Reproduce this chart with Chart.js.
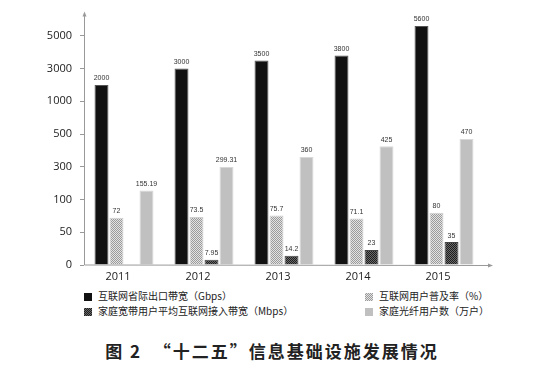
<!DOCTYPE html>
<html lang="zh">
<head>
<meta charset="UTF-8">
<title>“十二五”信息基础设施发展情况</title>
<script src="https://cdn.jsdelivr.net/npm/chart.js"></script>
<style>
  body { margin: 0; background: #fff; width: 544px; height: 367px; position: relative; overflow: hidden;
         font-family: "Noto Sans CJK SC", "Noto Sans", sans-serif; color: #222; }
  #wrap { position: absolute; left: 0; top: 0; width: 544px; height: 285px; }
  .lg { position: absolute; font-size: 10px; line-height: 12px; white-space: nowrap; }
  .lg i { display: inline-block; width: 8px; height: 8px; margin-right: 6px; vertical-align: -1px; }
  #caption { position: absolute; left: 0; width: 544px; top: 338px; text-align: center;
             font-size: 17px; font-weight: bold; letter-spacing: 2px; }
</style>
</head>
<body>
<div id="wrap"><canvas id="chart" width="544" height="285"></canvas></div>

<!-- Legend -->
<div class="lg" style="left:84px; top:290px;"><i style="background:#111"></i>互联网省际出口带宽（Gbps）</div>
<div class="lg" style="left:84px; top:305px;"><i id="lgDark"></i>家庭宽带用户平均互联网接入带宽（Mbps）</div>
<div class="lg" style="left:365px; top:290px;"><i id="lgLight"></i>互联网用户普及率（%）</div>
<div class="lg" style="left:365px; top:305px;"><i style="background:#c0c0c0"></i>家庭光纤用户数（万户）</div>

<div id="caption">图 2&nbsp;&nbsp;“十二五”信息基础设施发展情况</div>

<script>
// data
const years = ["2011", "2012", "2013", "2014", "2015"];
const exportBandwidth = [2000, 3000, 3500, 3800, 5600];      // Gbps
const penetrationRate = [72, 73.5, 75.7, 71.1, 80];          // %
const homeBandwidth = [null, 7.95, 14.2, 23, 35];            // Mbps
const fiberUsers = [155.19, 299.31, 360, 425, 470];          // 万户
const yTickLabels = [0, 50, 100, 300, 500, 1000, 3000, 5000];

// 分段刻度：每个刻度等距
function toIndex(v) {
    if (v == null) return null;
    for (let i = 1; i < yTickLabels.length; i++) {
        if (v <= yTickLabels[i]) {
            const a = yTickLabels[i - 1], b = yTickLabels[i];
            return i - 1 + (v - a) / (b - a);
        }
    }
    const n = yTickLabels.length - 1;
    const step = yTickLabels[n] - yTickLabels[n - 1];
    return n + (v - yTickLabels[n]) / step;
}

function makePattern(c1, c2) {
    const c = document.createElement("canvas");
    c.width = 2; c.height = 2;
    const g = c.getContext("2d");
    g.fillStyle = c1; g.fillRect(0, 0, 2, 2);
    g.fillStyle = c2; g.fillRect(0, 0, 1, 1); g.fillRect(1, 1, 1, 1);
    return document.getElementById("chart").getContext("2d").createPattern(c, "repeat");
}
const lightPat = makePattern("#e2e2e2", "#9a9a9a");
const darkPat = makePattern("#6a6a6a", "#1e1e1e");
document.getElementById("lgLight").style.background = "repeating-conic-gradient(#9a9a9a 0 25%, #e2e2e2 0 50%) 0 0/2px 2px";
document.getElementById("lgDark").style.background = "repeating-conic-gradient(#1e1e1e 0 25%, #6a6a6a 0 50%) 0 0/2px 2px";

const series = [
    { raw: exportBandwidth, bg: "#111111", border: "#555555" },
    { raw: penetrationRate, bg: lightPat, border: "#d0d0d0" },
    { raw: homeBandwidth, bg: darkPat, border: "#444444" },
    { raw: fiberUsers, bg: "#c0c0c0", border: "#d8d8d8" }
];

// 数值标签 + 坐标轴箭头
const extras = {
    id: "extras",
    afterDatasetsDraw(chart) {
        const ctx = chart.ctx;
        ctx.save();
        ctx.font = "7px 'Liberation Sans', sans-serif";
        ctx.fillStyle = "#333";
        ctx.textAlign = "center";
        ctx.textBaseline = "bottom";
        chart.data.datasets.forEach((ds, i) => {
            chart.getDatasetMeta(i).data.forEach((bar, j) => {
                const v = series[i].raw[j];
                if (v == null) return;
                ctx.fillText(String(v), bar.x, bar.y - 3);
            });
        });
        const a = chart.chartArea;
        ctx.strokeStyle = "#999";
        ctx.fillStyle = "#999";
        ctx.lineWidth = 1;
        ctx.beginPath();
        ctx.moveTo(a.left + 0.5, a.top);
        ctx.lineTo(a.left + 0.5, a.bottom);
        ctx.lineTo(a.right + 6, a.bottom + 0.5);
        ctx.stroke();
        ctx.beginPath();
        ctx.moveTo(a.left + 0.5, a.top - 3);
        ctx.lineTo(a.left - 1.5, a.top + 2);
        ctx.lineTo(a.left + 2.5, a.top + 2);
        ctx.fill();
        ctx.beginPath();
        ctx.moveTo(a.right + 9, a.bottom + 0.5);
        ctx.lineTo(a.right + 4, a.bottom - 1.5);
        ctx.lineTo(a.right + 4, a.bottom + 2.5);
        ctx.fill();
        ctx.restore();
    }
};

new Chart(document.getElementById("chart"), {
    type: "bar",
    data: {
        labels: years,
        datasets: series.map(s => ({
            data: s.raw.map(toIndex),
            backgroundColor: s.bg,
            borderColor: s.border,
            borderWidth: 1,
            categoryPercentage: 0.75,
            barPercentage: 0.93
        }))
    },
    options: {
        responsive: false,
        animation: false,
        layout: { padding: { left: 0, right: 60, top: 14, bottom: 0 } },
        plugins: { legend: { display: false }, tooltip: { enabled: false } },
        scales: {
            x: {
                grid: { display: false },
                border: { display: false },
                ticks: { color: "#222", font: { size: 11, family: "'Open Sans', sans-serif" }, labelOffset: -6, padding: -3 },
                afterFit(s) { s.height = 20; }
            },
            y: {
                min: 0,
                max: 7.65,
                grid: { drawOnChartArea: false, tickLength: 4, color: "#999" },
                border: { display: false },
                ticks: {
                    stepSize: 1,
                    color: "#222",
                    padding: 8,
                    font: { size: 11, family: "'Open Sans', sans-serif" },
                    callback: v => yTickLabels[v] !== undefined ? String(yTickLabels[v]) : ""
                },
                afterBuildTicks(s) { s.ticks = s.ticks.filter(t => Number.isInteger(t.value)); },
                afterFit(s) { s.width = 84; }
            }
        }
    },
    plugins: [extras]
});
</script>
</body>
</html>
